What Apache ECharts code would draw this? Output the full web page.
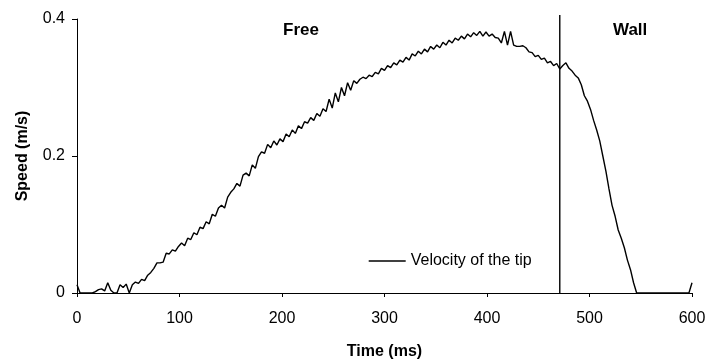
<!DOCTYPE html>
<html>
<head>
<meta charset="utf-8">
<script src="https://cdn.jsdelivr.net/npm/echarts@6/dist/echarts.min.js"></script>
<style>
html,body{margin:0;padding:0;background:#fff;}
#chart{width:707px;height:362px;}
</style>
</head>
<body>
<div id="chart"></div>
<script>
// Sampling step of the recorded tip velocity (ms)
var sampleStepMs = 3;
// Speed of the tip (m/s), one value every 3 ms from 0 to 600 ms
var speed = [
  0.012, 0, 0, 0, 0, 0, 0.002, 0.005, 0.006, 0.003,
  0.015, 0.004, 0, 0, 0.012, 0.008, 0.013, 0, 0.012, 0.016,
  0.014, 0.020, 0.018, 0.026, 0.030, 0.036, 0.044, 0.044, 0.045, 0.058,
  0.057, 0.063, 0.061, 0.068, 0.073, 0.069, 0.080, 0.078, 0.088, 0.085,
  0.096, 0.094, 0.104, 0.101, 0.115, 0.112, 0.124, 0.128, 0.124, 0.140,
  0.147, 0.152, 0.160, 0.156, 0.172, 0.175, 0.171, 0.187, 0.182, 0.199,
  0.206, 0.204, 0.217, 0.212, 0.222, 0.216, 0.225, 0.221, 0.232, 0.228,
  0.238, 0.233, 0.244, 0.240, 0.250, 0.248, 0.256, 0.252, 0.262, 0.258,
  0.269, 0.265, 0.283, 0.270, 0.292, 0.279, 0.300, 0.288, 0.307, 0.296,
  0.310, 0.306, 0.312, 0.315, 0.313, 0.318, 0.316, 0.322, 0.320, 0.328,
  0.325, 0.332, 0.329, 0.336, 0.333, 0.340, 0.337, 0.344, 0.340, 0.349,
  0.346, 0.353, 0.349, 0.356, 0.352, 0.360, 0.356, 0.362, 0.358, 0.366,
  0.362, 0.369, 0.365, 0.372, 0.369, 0.375, 0.371, 0.378, 0.374, 0.380,
  0.376, 0.382, 0.375, 0.381, 0.375, 0.378, 0.373, 0.372, 0.365, 0.382,
  0.362, 0.382, 0.362, 0.360, 0.360, 0.361, 0.358, 0.352, 0.351, 0.345,
  0.347, 0.341, 0.343, 0.336, 0.338, 0.332, 0.335, 0.327, 0.332, 0.336,
  0.328, 0.324, 0.318, 0.314, 0.304, 0.288, 0.280, 0.268, 0.252, 0.238,
  0.222, 0.200, 0.178, 0.152, 0.128, 0.112, 0.092, 0.080, 0.066, 0.048,
  0.034, 0.015, 0, 0, 0, 0, 0, 0, 0, 0,
  0, 0, 0, 0, 0, 0, 0, 0, 0, 0,
  0.015
];
// Moment the tip reaches the wall (ms) and top of the separator line (m/s)
var wallContactMs = 471;
var separatorTop = 0.406;
// Axis settings
var xTicks = [0, 100, 200, 300, 400, 500, 600];
var yTicks = [0, 0.2, 0.4];
var regionLabels = ['Free', 'Wall'];

var seriesData = speed.map(function (v, i) { return [i * sampleStepMs, v]; });
var separatorData = [[wallContactMs, 0], [wallContactMs, separatorTop]];

var font = 'Liberation Sans, Arial, sans-serif';
var chart = echarts.init(document.getElementById('chart'), null, {renderer: 'canvas'});
chart.setOption({
  animation: false,
  backgroundColor: '#ffffff',
  grid: {left: 77, right: 15, top: 19, bottom: 69, containLabel: false, outerBoundsMode: 'none'},
  legend: {
    left: 363, top: 248,
    itemWidth: 37, itemHeight: 14, itemGap: 5,
    data: ['Velocity of the tip'],
    itemStyle: {opacity: 0},
    lineStyle: {color: '#000', width: 1.4},
    textStyle: {fontFamily: font, fontSize: 16, color: '#000'}
  },
  xAxis: {
    type: 'value', min: xTicks[0], max: xTicks[xTicks.length - 1], interval: xTicks[1] - xTicks[0],
    name: 'Time (ms)', nameLocation: 'middle', nameGap: 51,
    nameTextStyle: {fontFamily: font, fontSize: 16, fontWeight: 'bold', color: '#000'},
    axisLine: {show: true, lineStyle: {color: '#000', width: 1}},
    axisTick: {show: true, length: 4, lineStyle: {color: '#000'}},
    axisLabel: {fontFamily: font, fontSize: 16, color: '#000', margin: 18},
    splitLine: {show: false}
  },
  yAxis: {
    type: 'value', min: yTicks[0], max: yTicks[yTicks.length - 1], interval: yTicks[1] - yTicks[0],
    name: 'Speed (m/s)', nameLocation: 'middle', nameGap: 46,
    nameTextStyle: {fontFamily: font, fontSize: 16, fontWeight: 'bold', color: '#000'},
    axisLine: {show: true, lineStyle: {color: '#000', width: 1}},
    axisTick: {show: true, length: 5, lineStyle: {color: '#000'}},
    axisLabel: {fontFamily: font, fontSize: 16, color: '#000', margin: 12},
    splitLine: {show: false}
  },
  series: [
    {
      name: 'Velocity of the tip', type: 'line', data: seriesData,
      showSymbol: false, symbol: 'none', clip: false,
      lineStyle: {color: '#000', width: 1.4},
      itemStyle: {color: '#000'}
    },
    {
      name: 'wall', type: 'line', data: separatorData,
      showSymbol: false, symbol: 'none', clip: false, silent: true,
      lineStyle: {color: '#000', width: 1.4}
    }
  ],
  graphic: [
    {type: 'text', left: 283, top: 22, style: {text: regionLabels[0], font: 'bold 17px ' + font, fill: '#000'}},
    {type: 'text', left: 613, top: 22, style: {text: regionLabels[1], font: 'bold 17px ' + font, fill: '#000'}}
  ]
});
</script>
</body>
</html>
